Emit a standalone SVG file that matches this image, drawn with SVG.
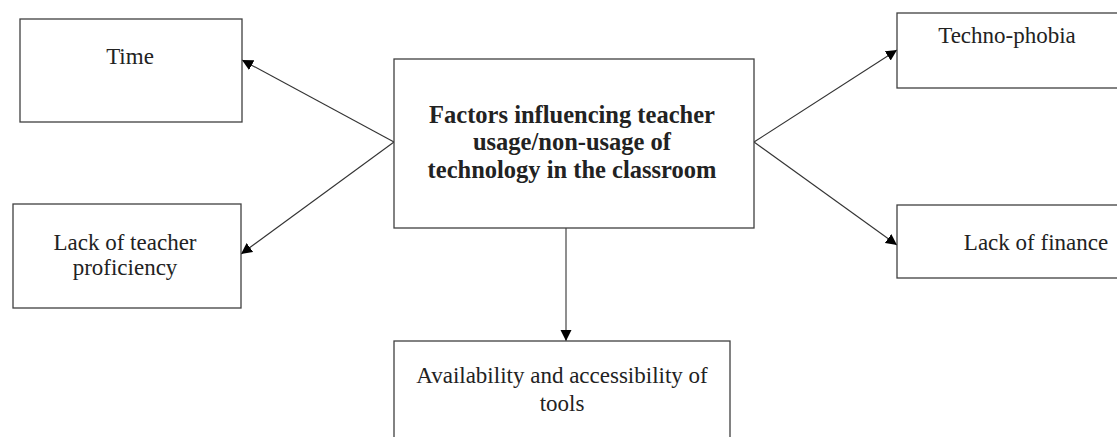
<svg xmlns="http://www.w3.org/2000/svg" width="1117" height="437" viewBox="0 0 1117 437">
<style>
.box{fill:#fff;stroke:#404040;stroke-width:1.3}
.t{font-family:"Liberation Serif",serif;font-size:23px;fill:#222;text-anchor:middle}
.b{font-weight:bold;font-size:24.5px}
.c{stroke:#333;stroke-width:1.1;fill:none;marker-end:url(#ah)}
</style>
<defs>
<marker id="ah" markerUnits="userSpaceOnUse" markerWidth="12" markerHeight="12" refX="11" refY="5.5" orient="auto" viewBox="0 0 12 11">
<path d="M0,0 L11,5.5 L0,11 z" fill="#000"/>
</marker>
</defs>
<rect width="1117" height="437" fill="#fff"/>
<g id="connectors">
<line class="c" x1="394" y1="142" x2="242" y2="60"/>
<line class="c" x1="394" y1="142" x2="241" y2="254"/>
<line class="c" x1="754" y1="142" x2="897" y2="50"/>
<line class="c" x1="754" y1="142" x2="897" y2="245"/>
<line class="c" x1="566" y1="228" x2="566" y2="341"/>
</g>
<g id="center">
<rect class="box" x="394" y="59" width="360" height="169"/>
<text class="t b" x="572" y="123">Factors influencing teacher</text>
<text class="t b" x="572" y="150">usage/non-usage of</text>
<text class="t b" x="572" y="178">technology in the classroom</text>
</g>
<g id="time">
<rect class="box" x="20" y="19" width="222" height="103"/>
<text class="t" x="130" y="64">Time</text>
</g>
<g id="proficiency">
<rect class="box" x="13" y="204" width="228" height="104"/>
<text class="t" x="125" y="250">Lack of teacher</text>
<text class="t" x="125" y="275">proficiency</text>
</g>
<g id="technophobia">
<rect class="box" x="897" y="13" width="240" height="75"/>
<text class="t" x="1007" y="43">Techno-phobia</text>
</g>
<g id="finance">
<rect class="box" x="897" y="205" width="240" height="73"/>
<text class="t" x="1036" y="250">Lack of finance</text>
</g>
<g id="availability">
<rect class="box" x="394" y="341" width="336" height="120"/>
<text class="t" x="562" y="383">Availability and accessibility of</text>
<text class="t" x="562" y="411">tools</text>
</g>
</svg>
